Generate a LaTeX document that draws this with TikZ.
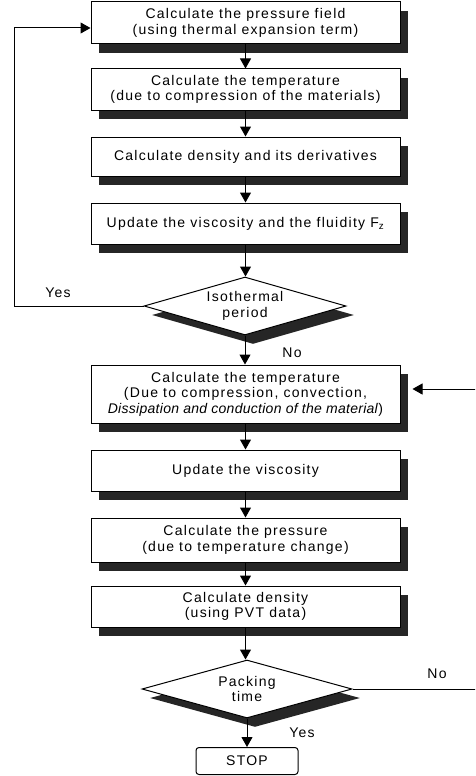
\documentclass[tikz,border=0pt]{standalone}
\usepackage{fontspec}
\setmainfont{Liberation Sans}[LetterSpace=9]
\usetikzlibrary{calc,arrows.meta,shapes.geometric,shadows}

\begin{document}
\begin{tikzpicture}[x=1pt,y=-1pt,
    font=\fontsize{14}{15.5}\selectfont,
    sh/.style={drop shadow={shadow xshift=8pt,shadow yshift=-9pt,fill=black!85,opacity=1}},
    stepbox/.style={draw,line width=1pt,fill=white,sh,minimum width=309pt,align=center,inner sep=1pt},
    test/.style={diamond,draw,line width=1pt,fill=white,sh,align=center,inner sep=0pt,shape aspect=3.5},
    stopbox/.style={draw,line width=1pt,rounded corners=3pt,minimum width=102pt,minimum height=27pt},
    arr/.style={line width=1pt,-{Triangle[width=11pt,length=10pt]}}]
    \useasboundingbox(0,0)rectangle(475,776);
    \clip(0,0)rectangle(475,776);
    \node[stepbox,minimum height=42pt](pfield) at (245.5,23) {Calculate the pressure field\\(using thermal expansion term)};
    \node[stepbox,minimum height=41pt](temp1) at (245.5,89.5) {Calculate the temperature\\(due to compression of the materials)};
    \node[stepbox,minimum height=39pt](dens1) at (245.5,156.5) {Calculate density and its derivatives};
    \node[stepbox,minimum height=41pt](visc1) at (245.5,223.5) {Update the viscosity and the fluidity F\textsubscript{z}};
    \node[test,minimum width=202pt,minimum height=58pt](iso) at (245,306) {Isothermal\\period};
    \node[stepbox,minimum height=58pt](temp2) at (245.5,394) {Calculate the temperature\\(Due to compression, convection,\\\textit{\addfontfeature{LetterSpace=2}Dissipation and conduction of the material})};
    \node[stepbox,minimum height=41pt](visc2) at (245.5,470.5) {Update the viscosity};
    \node[stepbox,minimum height=44pt](press) at (245.5,540) {Calculate the pressure\\(due to temperature change)};
    \node[stepbox,minimum height=41pt](dens2) at (245.5,606.5) {Calculate density\\(using PVT data)};
    \node[test,minimum width=210pt,minimum height=58pt](pack) at (247,689) {Packing\\time};
    \node[stopbox](stop) at (247,761) {STOP};
    \foreach \a/\b in {pfield/temp1,temp1/dens1,dens1/visc1,visc1/iso,iso/temp2,temp2/visc2,visc2/press,press/dens2,dens2/pack,pack/stop}
        \draw[arr](\a.south)--(\a.south|-\b.north);
    \draw[arr](iso.west)--++(-129,0)|-([yshift=-5pt]pfield.west);
    \draw[arr](pack.east)--(478,689)|-([xshift=12pt,yshift=5pt]temp2.east);
    \node(yes1) at (58,293) {Yes};
    \node(no1) at (292,353) {No};
    \node(no2) at (437,674) {No};
    \node(yes2) at (302,733) {Yes};
\end{tikzpicture}
\end{document}
